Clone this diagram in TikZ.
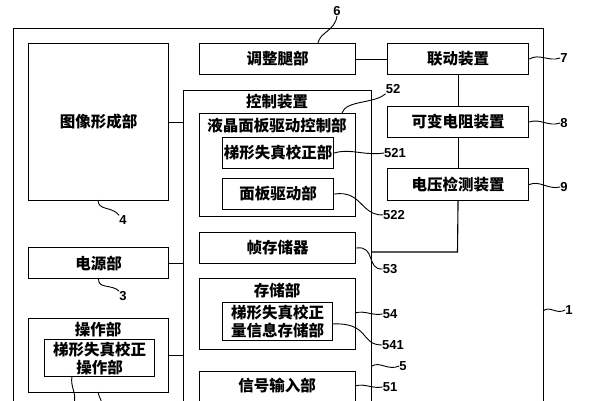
\documentclass[tikz,border=0pt]{standalone}
\usepackage{fontspec}
\newfontfamily\cjk{Noto Sans CJK SC}
\newfontfamily\numf{Liberation Sans}
\tikzset{
  x=1pt, y=-1pt,
  box/.style={draw, line width=1.1pt, inner sep=0pt, anchor=north west, align=center},
  cjkt/.style={font=\cjk\bfseries\fontsize{15.5}{18}\selectfont, inner sep=0pt, align=center},
  num/.style={font=\numf\bfseries\fontsize{13}{13}\selectfont, inner sep=0pt},
  lead/.style={line width=0.9pt},
  conn/.style={line width=1.1pt}
}
\newcommand{\bx}[6]{\node[box, minimum width={#4-#2}, minimum height={#5-#3}] (#1) at (#2,#3) {}; \node[cjkt] at ($(#1.center)$) {#6};}
\usetikzlibrary{calc}
\begin{document}
\begin{tikzpicture}
\useasboundingbox[fill=white] (0,0) rectangle (590,400);
\clip (0,0) rectangle (590,400);
% frame 1
\node[box, minimum width=530, minimum height=392] (b1) at (13,28) {};
% left column
\bx{b4}{28}{43}{168}{200}{图像形成部}
\bx{b3}{28}{247}{168}{278}{电源部}
\node[box, minimum width=140, minimum height=74] (bop) at (28,318) {};
\node[cjkt] (top) at (98,330) {操作部};
\bx{bopi}{44}{339}{154}{376}{梯形失真校正\\操作部}
% top row
\bx{b6}{199}{43}{355}{74}{调整腿部}
\bx{b7}{387}{43}{528}{74}{联动装置}
\bx{b8}{387}{106}{528}{137}{可变电阻装置}
\bx{b9}{387}{168}{528}{200}{电压检测装置}
% control device
\node[box, minimum width=188, minimum height=330] (b5) at (183,90) {};
\node[cjkt] (t5) at (277,102) {控制装置};
\node[box, minimum width=156, minimum height=103] (b52) at (199,113) {};
\node[cjkt] (t52) at (277,126) {液晶面板驱动控制部};
\bx{b521}{222}{137}{333}{168}{梯形失真校正部}
\bx{b522}{222}{178}{333}{209}{面板驱动部}
\bx{b53}{199}{232}{355}{263}{帧存储器}
\node[box, minimum width=156, minimum height=71] (b54) at (199,278) {};
\node[cjkt] (t54) at (277,291) {存储部};
\bx{b541}{222}{302}{332}{340}{梯形失真校正\\量信息存储部}
\node[box, minimum width=156, minimum height=50] (b51) at (199,371) {};
\node[cjkt] (t51) at (277,386) {信号输入部};
% connections
\draw[conn] (b4.east) -- (b4.east -| b5.west);
\draw[conn] (b3.east) -- (b3.east -| b5.west);
\draw[conn] (bop.east) -- (bop.east -| b5.west);
\draw[conn] (b6.east) -- (b7.west);
\draw[conn] (b7.south) -- (b8.north);
\draw[conn] (b8.south) -- (b9.north);
\coordinate (j) at (457.5,252);
\draw[conn] (b9.south) -- (j) -- (j -| b5.east);
% number labels
\node[num] (n6) at (337,11) {6};
\node[num] (n7) at (564,58) {7};
\node[num] (n8) at (564,123) {8};
\node[num] (n9) at (564,187) {9};
\node[num] (n52) at (393,89) {52};
\node[num] (n521) at (395,153) {521};
\node[num] (n522) at (394,215) {522};
\node[num] (n53) at (390,269) {53};
\node[num] (n54) at (390,314) {54};
\node[num] (n541) at (393,345) {541};
\node[num] (n5) at (403,366) {5};
\node[num] (n51) at (390,387) {51};
\node[num] (n1) at (569,310) {1};
\node[num] (n4) at (123,220) {4};
\node[num] (n3) at (123,296) {3};
% leaders
\draw[lead] (318,43) .. controls (320,32) and (335,31) .. (n6.south);
\draw[lead] (b7.east) .. controls (540,53) and (548,62) .. (n7.west);
\draw[lead] (b8.east) .. controls (540,118) and (548,127) .. (n8.west);
\draw[lead] (b9.east) .. controls (540,180) and (548,190) .. (n9.west);
\draw[lead] (342,113) .. controls (346,100) and (374,104) .. (n52.south west);
\draw[lead] (b521.east) .. controls (350,148) and (365,156) .. (n521.west);
\draw[lead] (b522.east) .. controls (362,190) and (360,215) .. (n522.west);
\draw[lead] (b53.east) .. controls (376,245) and (366,270) .. (n53.west);
\draw[lead] (355,313) .. controls (365,310) and (372,316) .. (n54.west);
\draw[lead] (332,324) .. controls (370,322) and (360,345) .. (n541.west);
\draw[lead] (372,366) .. controls (380,361) and (388,371) .. (n5.west);
\draw[lead] (355,386) .. controls (365,383) and (372,389) .. (n51.west);
\draw[lead] (543,311) .. controls (550,305) and (556,315) .. (n1.west);
\draw[lead] (98,200) .. controls (98,211) and (112,206) .. (n4.north west);
\draw[lead] (b3.south) .. controls (98,289) and (112,284) .. (n3.north west);
\coordinate (e1) at (74,404);
\coordinate (e2) at (102,404);
\draw[lead] (72,376) .. controls (70,388) and (77,392) .. (e1);
\draw[lead] (98,392) .. controls (99,397) and (101,399) .. (e2);
\end{tikzpicture}
\end{document}
